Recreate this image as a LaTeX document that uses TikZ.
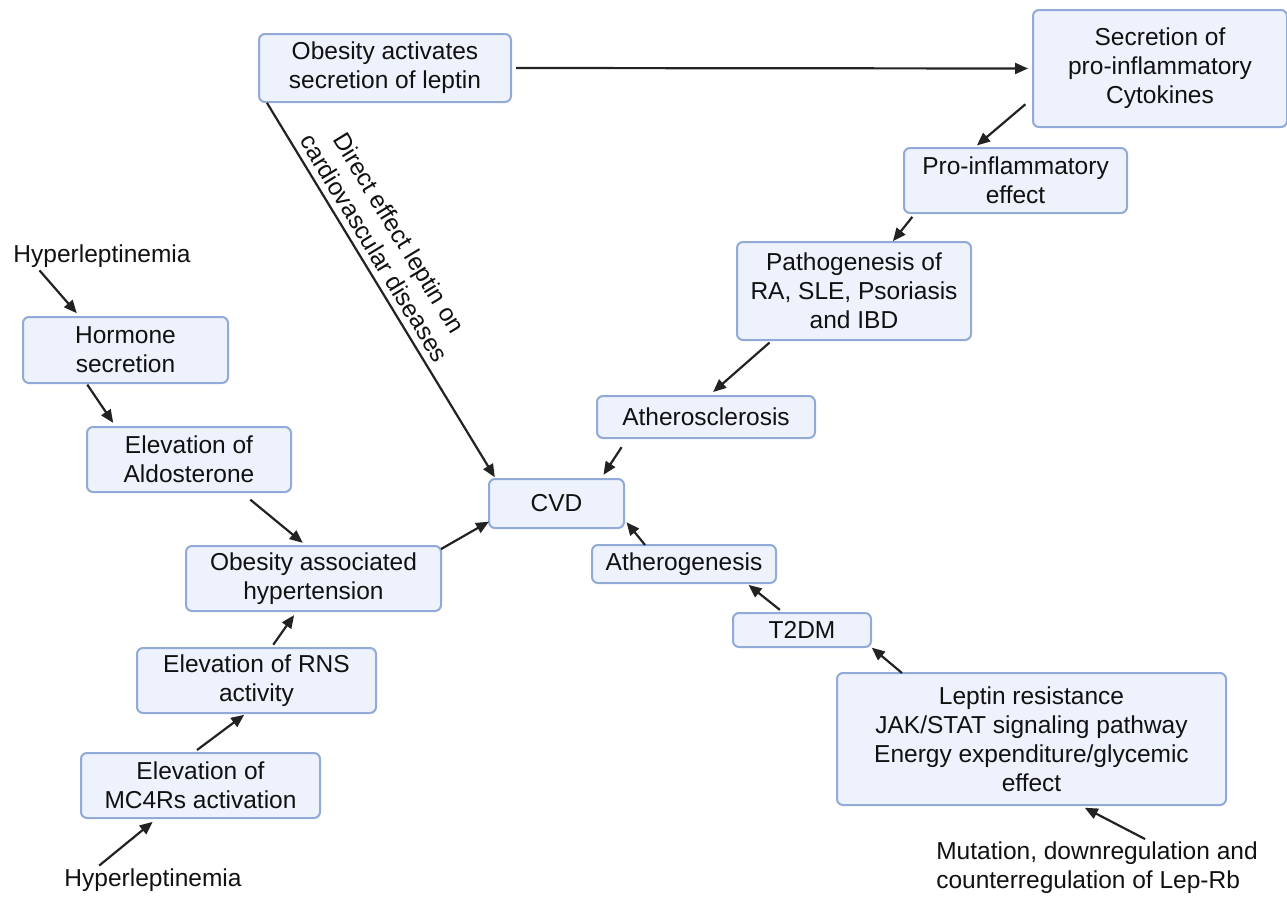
\documentclass[tikz,border=0pt]{standalone}
\usepackage{fontspec}
\setmainfont{Liberation Sans}
\usepackage{tikz}
\usetikzlibrary{calc,arrows.meta}

\definecolor{boxfill}{RGB}{237,242,252}
\definecolor{boxline}{RGB}{145,170,215}
\definecolor{arrowcol}{RGB}{34,34,34}
\definecolor{textcol}{RGB}{17,17,17}

\tikzset{
  box/.style={draw=boxline, fill=boxfill, line width=2pt, rounded corners=6pt,
    align=center, inner sep=0pt, outer sep=0pt, text=textcol},
  plain/.style={align=center, inner sep=3pt, outer sep=0pt, text=textcol},
  arr/.style={draw=arrowcol, line width=2.2pt, -{Triangle[length=13pt,width=11pt]}}
}

\begin{document}
\begin{tikzpicture}[x=1pt, y=-1pt, font=\fontsize{24.5}{29}\selectfont]
            \useasboundingbox (0,0) rectangle (1287,897);

            \node[box, minimum width=252pt, minimum height=68pt] (leptin) at (385,68) {Obesity activates\\secretion of leptin};
            \node[box, minimum width=254pt, minimum height=117pt] (cytok) at (1160,68.5) {Secretion of\\pro-inflammatory\\Cytokines};
            \node[box, minimum width=223pt, minimum height=65pt] (proinf) at (1015.5,180.5) {Pro-inflammatory\\effect};
            \node[box, minimum width=234pt, minimum height=98pt] (patho) at (854,291) {Pathogenesis of\\RA, SLE, Psoriasis\\and IBD};
            \node[box, minimum width=218pt, minimum height=42pt] (athero) at (706,417) {Atherosclerosis};
            \node[box, minimum width=135pt, minimum height=49pt] (cvd) at (556.5,503.5) {CVD};
            \node[box, minimum width=184pt, minimum height=38pt] (atherog) at (684,564) {Atherogenesis};
            \node[box, minimum width=138pt, minimum height=34pt] (t2dm) at (802,630) {T2DM};
            \node[box, minimum width=389pt, minimum height=132pt] (leptres) at (1031.5,739) {Leptin resistance\\JAK/STAT signaling pathway\\Energy expenditure/glycemic\\effect};
            \node[plain, align=left] (mut) at (1097,868) {Mutation, downregulation and\\counterregulation of Lep-Rb};

            \node[plain] (hyper1) at (102,256) {Hyperleptinemia};
            \node[box, minimum width=205pt, minimum height=66pt] (hormone) at (125.5,350) {Hormone\\secretion};
            \node[box, minimum width=204pt, minimum height=65pt] (aldo) at (189,459.5) {Elevation of\\Aldosterone};
            \node[box, minimum width=255pt, minimum height=65pt] (hyperten) at (313.5,578.5) {Obesity associated\\hypertension};
            \node[box, minimum width=239pt, minimum height=65pt] (rns) at (256.5,680.5) {Elevation of RNS\\activity};
            \node[box, minimum width=239pt, minimum height=65pt] (mc4r) at (200.5,785.5) {Elevation of\\MC4Rs activation};
            \node[plain] (hyper2) at (153,880) {Hyperleptinemia};

            \draw[arr, shorten <=5pt, shorten >=5pt] (leptin.east) -- (cytok.west);
            \draw[arr, shorten <=10pt, shorten >=4pt] (cytok.193) -- (proinf.142);
            \draw[arr, shorten <=5pt, shorten >=1pt] (proinf.198) -- (patho.52);
            \draw[arr, shorten <=4pt, shorten >=6pt] (patho.211) -- (athero.83);
            \draw[arr, shorten <=11pt, shorten >=5pt] (athero.195) -- (cvd.29);
            \draw[arr, shorten <=1pt, shorten >=2pt] (leptin.196) -- (cvd.158)
              node[pos=0.41, sloped, above=3pt, align=center, text=textcol] {Direct effect leptin on\\cardiovascular diseases};

            \draw[arr, shorten >=5pt] (hyper1.193) -- (hormone.144);
            \draw[arr, shorten <=2pt, shorten >=5pt] (hormone.220) -- (aldo.156);
            \draw[arr, shorten <=12pt, shorten >=5pt] (aldo.328) -- (hyperten.102);
            \draw[arr] (hyperten.13) -- (cvd.195);
            \draw[arr, shorten >=6pt] (hyper2.165) -- (mc4r.217);
            \draw[arr, shorten <=5pt, shorten >=3pt] (mc4r.103) -- (rns.253);
            \draw[arr, shorten <=4pt, shorten >=5pt] (rns.66) -- (hyperten.243);

            \draw[arr, shorten >=4pt] (atherog.154) -- (cvd.347);
            \draw[arr, shorten <=5pt, shorten >=3pt] (t2dm.137) -- (atherog.343);
            \draw[arr, shorten >=1pt] (leptres.153) -- (t2dm.south east);
            \draw[arr, shorten >=6pt] (mut.31) -- (leptres.306);
        \end{tikzpicture}
\end{document}
